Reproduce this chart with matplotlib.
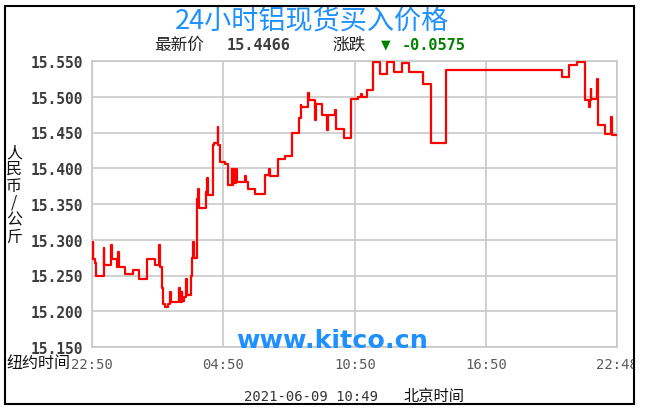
import matplotlib
matplotlib.use("Agg")
import matplotlib.pyplot as plt
from matplotlib.patches import Rectangle
from matplotlib.transforms import Bbox, TransformedBbox

# ==============================
# DATA
# ==============================

# minutes after 22:50 (New York time) where each price level starts
times = [
    0, 2, 4, 7, 11, 33, 34, 53, 55, 68,
    72, 74, 90, 113, 130, 150, 173, 184, 186, 191,
    195, 200, 209, 214, 216, 239, 241, 246, 247, 252,
    257, 259, 271, 274, 276, 279, 288, 291, 294, 312,
    314, 317, 331, 335, 344, 346, 351, 364, 373, 383,
    384, 387, 389, 394, 397, 419, 421, 428, 446, 474,
    485, 487, 510, 529, 549, 568, 572, 573, 592, 594,
    611, 613, 629, 644, 647, 666, 668, 690, 709, 729,
    737, 739, 752, 770, 789, 809, 827, 848, 869, 907,
    928, 970, 1287, 1307, 1328, 1350, 1362, 1364, 1366, 1368,
    1384, 1387, 1405, 1421, 1423, 1438,
]

prices = [
    15.273, 15.297, 15.273, 15.268, 15.250, 15.288, 15.265, 15.293, 15.273, 15.262,
    15.283, 15.262, 15.252, 15.258, 15.245, 15.273, 15.265, 15.292, 15.262, 15.232,
    15.210, 15.206, 15.210, 15.227, 15.213, 15.232, 15.213, 15.227, 15.215, 15.220,
    15.245, 15.223, 15.250, 15.275, 15.297, 15.275, 15.357, 15.371, 15.344, 15.367,
    15.386, 15.363, 15.432, 15.435, 15.458, 15.433, 15.409, 15.406, 15.376, 15.399,
    15.376, 15.399, 15.379, 15.399, 15.381, 15.389, 15.381, 15.371, 15.364, 15.391,
    15.399, 15.389, 15.413, 15.417, 15.450, 15.470, 15.488, 15.486, 15.505, 15.496,
    15.467, 15.490, 15.474, 15.453, 15.474, 15.482, 15.455, 15.442, 15.497, 15.500,
    15.504, 15.499, 15.510, 15.549, 15.532, 15.549, 15.535, 15.547, 15.534, 15.518,
    15.435, 15.538, 15.527, 15.544, 15.549, 15.495, 15.485, 15.496, 15.511, 15.497,
    15.525, 15.461, 15.448, 15.471, 15.4466, 15.4466,
]

x_ticks = [0, 360, 720, 1080, 1438]
x_labels = ["22:50", "04:50", "10:50", "16:50", "22:48"]

y_ticks = [15.15, 15.20, 15.25, 15.30, 15.35, 15.40, 15.45, 15.50, 15.55]
y_labels = ["15.150", "15.200", "15.250", "15.300", "15.350",
            "15.400", "15.450", "15.500", "15.550"]

title = "24小时铝现货买入价格"
latest_price = "15.4466"
change = "-0.0575"
stamp = "2021-06-09 10:49"

# ==============================
# FIGURE
# ==============================

W, H = 646, 414
CJK = ["Noto Sans CJK SC", "DejaVu Sans"]
MONO = "DejaVu Sans Mono"


def px(x, y):
    return x / W, 1 - y / H


fig = plt.figure(figsize=(W / 100, H / 100), dpi=100)
fig.patch.set_facecolor("white")

left, top = px(92, 62)
right, bottom = px(617, 348)
ax = fig.add_axes([left, bottom, right - left, top - bottom])

ax.plot(times, prices, drawstyle="steps-post", color="#ff0000",
        linewidth=1.6, zorder=3)

ax.set_xlim(0, 1438)
ax.set_ylim(15.15, 15.55)

ax.set_xticks(x_ticks)
ax.set_xticklabels(x_labels, fontfamily=MONO, fontsize=10, color="#5a5a5a")
ax.set_yticks(y_ticks)
ax.set_yticklabels(y_labels, fontfamily=MONO, fontsize=10.5,
                   fontweight="bold", color="#3c3c3c")
ax.tick_params(axis="both", length=0)
ax.tick_params(axis="y", pad=6.5)
ax.tick_params(axis="x", pad=7)

ax.grid(True, color="#c8c8c8", linewidth=1.2)
ax.set_axisbelow(True)
for s in ax.spines.values():
    s.set_color("#c8c8c8")
    s.set_linewidth(1.2)

# ==============================
# OUTER FRAME
# ==============================

fx0, fy1 = px(5, 7)
fx1, fy0 = px(634, 405)
frame = Rectangle((fx0, fy0), fx1 - fx0, fy1 - fy0, transform=fig.transFigure,
                  fill=False, edgecolor="black", linewidth=1.5, zorder=10)
fig.patches.append(frame)

# clip the last time label at the frame like the original
clip = TransformedBbox(Bbox([[fx0, fy0], [fx1, fy1]]), fig.transFigure)
for lab in ax.get_xticklabels():
    lab.set_clip_on(True)
    lab.set_clip_box(clip)

# ==============================
# TEXTS
# ==============================

fig.text(*px(312, 21), title, family=CJK, fontsize=19.5, color="#1E90FF",
         ha="center", va="center")

fig.text(*px(154, 45), "最新价", family=CJK, fontsize=12, color="#222222",
         ha="left", va="center")
fig.text(*px(227, 45), latest_price, family=MONO, fontsize=11,
         fontweight="bold", color="#404040", ha="left", va="center")
fig.text(*px(332, 45), "涨跌", family=CJK, fontsize=12, color="#222222",
         ha="left", va="center")
fig.text(*px(381, 45), "▼", family="DejaVu Sans", fontsize=9,
         color="#008000", ha="left", va="center")
fig.text(*px(402, 45), change, family=MONO, fontsize=11,
         fontweight="bold", color="#008000", ha="left", va="center")

fig.text(*px(14, 195), "人\n民\n币\n/\n公\n斤", family=CJK, fontsize=11.5,
         color="#111111", ha="center", va="center", linespacing=1.0)

fig.text(*px(70, 364), "纽约时间", family=CJK, fontsize=11.5,
         color="#111111", ha="right", va="center")

fig.text(*px(244, 397), stamp, family=MONO, fontsize=10, color="#333333",
         ha="left", va="center")
fig.text(*px(404, 397), "北京时间", family=CJK, fontsize=11,
         color="#111111", ha="left", va="center")

fig.text(*px(332, 341), "www.kitco.cn", family="DejaVu Sans",
         fontweight="bold", fontsize=18.3, color="#1E90FF",
         ha="center", va="center", zorder=5)

fig.savefig("out.png", dpi=100)
